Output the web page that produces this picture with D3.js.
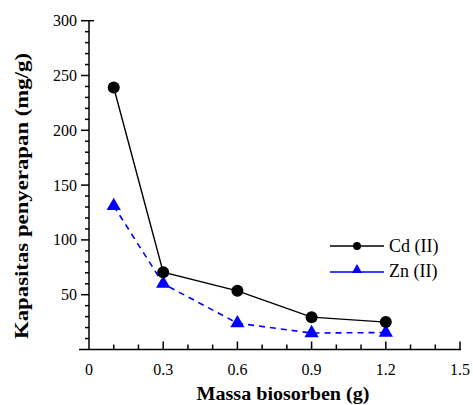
<!DOCTYPE html>
<html>
<head>
<meta charset="utf-8">
<script src="https://cdn.jsdelivr.net/npm/d3@7"></script>
<style>
  body { margin: 0; background: #fff; }
  svg text { font-family: "Liberation Serif", "DejaVu Serif", serif; }
</style>
</head>
<body>
<svg id="chart" width="473" height="405"></svg>
<script>
// data
const massa = [0.1, 0.3, 0.6, 0.9, 1.2];
const cdValues = [239, 70.5, 53.5, 29.5, 25];
const znValues = [131, 60, 24, 15, 15.5];
const xTicks = [0, 0.3, 0.6, 0.9, 1.2, 1.5];
const yTicks = [50, 100, 150, 200, 250, 300];

const serif = "'Liberation Serif', 'DejaVu Serif', serif";

const svg = d3.select("#chart");

// plot area
const plotLeft = 89, plotRight = 460, plotTop = 20.7, plotBottom = 349.5;

const x = d3.scaleLinear().domain([0, 1.5]).range([plotLeft, plotRight]);
const y = d3.scaleLinear().domain([0, 300]).range([plotBottom, plotTop]);

// x axis: line, ticks pointing up
svg.append("line")
    .attr("x1", plotLeft - 10).attr("x2", plotRight + 1)
    .attr("y1", plotBottom).attr("y2", plotBottom)
    .attr("stroke", "#000").attr("stroke-width", 1.5);

d3.range(1, 16).forEach(i => {
    let v = i / 10;
    let major = i % 3 === 0;
    svg.append("line")
        .attr("x1", x(v)).attr("x2", x(v))
        .attr("y1", plotBottom).attr("y2", plotBottom - (major ? 8 : 5))
        .attr("stroke", "#000").attr("stroke-width", 1.5);
});

svg.selectAll(".xlab")
    .data(xTicks)
    .join("text")
    .attr("class", "xlab")
    .attr("x", d => x(d))
    .attr("y", 375)
    .attr("text-anchor", "middle")
    .attr("font-family", serif)
    .style("font-size", "16px")
    .text(d => d === 0 ? "0" : d3.format(".1f")(d));

// y axis: line, ticks pointing left
svg.append("line")
    .attr("x1", plotLeft).attr("x2", plotLeft)
    .attr("y1", plotTop).attr("y2", plotBottom)
    .attr("stroke", "#000").attr("stroke-width", 1.5);

d3.range(1, 31).forEach(i => {
    let v = i * 10;
    let major = v % 50 === 0;
    svg.append("line")
        .attr("x1", plotLeft - (major ? 8 : 4))
        .attr("x2", v === 300 ? plotLeft + 5 : plotLeft)
        .attr("y1", y(v)).attr("y2", y(v))
        .attr("stroke", "#000").attr("stroke-width", 1.5);
});

svg.selectAll(".ylab")
    .data(yTicks)
    .join("text")
    .attr("class", "ylab")
    .attr("x", 77)
    .attr("y", d => y(d) + 5.5)
    .attr("text-anchor", "end")
    .attr("font-family", serif)
    .style("font-size", "16px")
    .text(d => d);

// axis titles
svg.append("text")
    .attr("x", 283).attr("y", 400)
    .attr("text-anchor", "middle")
    .attr("font-family", serif)
    .attr("textLength", 173)
    .attr("lengthAdjust", "spacingAndGlyphs")
    .style("font-size", "18px")
    .style("font-weight", "bold")
    .text("Massa biosorben (g)");

svg.append("text")
    .attr("transform", "translate(28,196) rotate(-90)")
    .attr("text-anchor", "middle")
    .attr("font-family", serif)
    .attr("textLength", 286)
    .attr("lengthAdjust", "spacingAndGlyphs")
    .style("font-size", "18px")
    .style("font-weight", "bold")
    .text("Kapasitas penyerapan (mg/g)");

// series
const cdData = massa.map((m, i) => ({ m: m, v: cdValues[i] }));
const znData = massa.map((m, i) => ({ m: m, v: znValues[i] }));

let line = d3.line()
    .x(d => x(d.m))
    .y(d => y(d.v));

svg.append("path")
    .datum(znData)
    .attr("d", line)
    .attr("fill", "none")
    .attr("stroke", "#0000ff")
    .attr("stroke-width", 1.6)
    .attr("stroke-dasharray", "6,5");

svg.append("path")
    .datum(cdData)
    .attr("d", line)
    .attr("fill", "none")
    .attr("stroke", "#000")
    .attr("stroke-width", 1.4);

let tri = d3.symbol().type(d3.symbolTriangle).size(88);

svg.selectAll(".zn")
    .data(znData)
    .join("path")
    .attr("class", "zn")
    .attr("d", tri)
    .attr("transform", d => `translate(${x(d.m)},${y(d.v)})`)
    .attr("fill", "#0000ff");

svg.selectAll(".cd")
    .data(cdData)
    .join("circle")
    .attr("class", "cd")
    .attr("cx", d => x(d.m))
    .attr("cy", d => y(d.v))
    .attr("r", 6)
    .attr("fill", "#000");

// legend
let legend = svg.append("g");
legend.append("line")
    .attr("x1", 330).attr("x2", 384).attr("y1", 246).attr("y2", 246)
    .attr("stroke", "#000").attr("stroke-width", 1.4);
legend.append("circle")
    .attr("cx", 357).attr("cy", 246).attr("r", 4).attr("fill", "#000");
legend.append("text")
    .attr("x", 389).attr("y", 252)
    .attr("font-family", serif)
    .style("font-size", "18px")
    .text("Cd (II)");

legend.append("line")
    .attr("x1", 330).attr("x2", 384).attr("y1", 272).attr("y2", 272)
    .attr("stroke", "#0000ff").attr("stroke-width", 1.6);
legend.append("path")
    .attr("d", d3.symbol().type(d3.symbolTriangle).size(45))
    .attr("transform", "translate(357,270)")
    .attr("fill", "#0000ff");
legend.append("text")
    .attr("x", 389).attr("y", 277)
    .attr("font-family", serif)
    .style("font-size", "18px")
    .text("Zn (II)");
</script>
</body>
</html>
